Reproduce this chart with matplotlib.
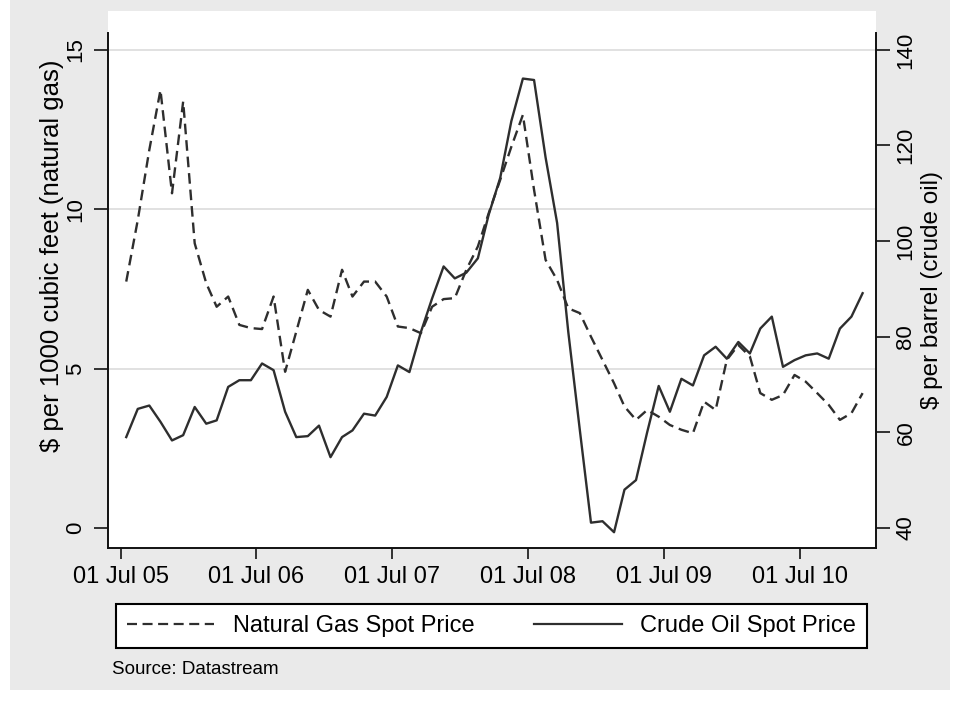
import numpy as np
import pandas as pd
import matplotlib
matplotlib.use('Agg')
import matplotlib.pyplot as plt
import matplotlib.dates as mdates
from matplotlib.patches import Rectangle
from matplotlib.lines import Line2D

plt.rcParams['font.family'] = ['Liberation Sans', 'DejaVu Sans']

# monthly observations, Jul 2005 - Dec 2010 (plotted mid-month)
months = pd.date_range('2005-07-01', '2010-12-01', freq='MS') + pd.Timedelta(days=15)

# natural gas spot price, $ per 1000 cubic feet
gas = [7.73, 9.66, 11.86, 13.74, 10.50, 13.38, 8.93, 7.68, 6.94, 7.26, 6.37, 6.27,
       6.24, 7.26, 4.90, 6.16, 7.47, 6.84, 6.63, 8.10, 7.26, 7.73, 7.73, 7.26,
       6.32, 6.27, 6.11, 6.94, 7.18, 7.21, 8.10, 8.83, 9.87, 10.92, 11.96, 12.96,
       10.61, 8.41, 7.78, 6.89, 6.74, 6.00, 5.27, 4.54, 3.81, 3.39, 3.70, 3.49,
       3.23, 3.08, 2.97, 3.96, 3.70, 5.27, 5.74, 5.38, 4.23, 4.02, 4.17, 4.80,
       4.59, 4.23, 3.86, 3.39, 3.60, 4.23]

# crude oil spot price, $ per barrel
oil = [59.0, 64.9, 65.6, 62.2, 58.3, 59.4, 65.3, 61.8, 62.5, 69.5, 70.9, 70.9,
       74.4, 73.0, 64.3, 59.0, 59.2, 61.4, 54.8, 59.0, 60.4, 63.9, 63.5, 67.4,
       74.0, 72.6, 81.0, 88.0, 94.7, 92.2, 93.4, 96.4, 105.5, 113.2, 125.1, 134.0,
       133.7, 117.5, 103.8, 81.0, 60.5, 41.1, 41.4, 39.1, 48.0, 50.0, 60.0, 69.7,
       64.3, 71.2, 69.8, 76.1, 77.9, 75.4, 78.9, 76.5, 81.7, 84.2, 73.7, 75.1,
       76.1, 76.5, 75.4, 81.7, 84.2, 89.1]

gas_ticks = [0, 5, 10, 15]
oil_ticks = [40, 60, 80, 100, 120, 140]
date_ticks = pd.to_datetime(['2005-07-01', '2006-07-01', '2007-07-01',
                             '2008-07-01', '2009-07-01', '2010-07-01'])

W, H = 956, 702
fig = plt.figure(figsize=(W / 100, H / 100), dpi=100, facecolor='white')
fig.patches.append(Rectangle((10 / W, 12 / H), 940 / W, 690 / H,
                             transform=fig.transFigure, facecolor='#eaeaea',
                             edgecolor='none', zorder=-10))

ax = fig.add_axes([108 / W, (H - 548) / H, 768 / W, 537 / H])
ax.set_facecolor('white')
ax2 = ax.twinx()

line_col = '#2e2e2e'
ax.plot(months, gas, color=line_col, lw=1.7, dashes=(4.5, 2.5))
ax2.plot(months, oil, color=line_col, lw=1.7)

# axis ranges: gas 0..15 maps onto oil 40..140
g_lo, g_hi = -0.63, 16.22
ax.set_ylim(g_lo, g_hi)
ax2.set_ylim(40 + g_lo * 100 / 15, 40 + g_hi * 100 / 15)
ax.set_xlim(pd.Timestamp('2005-05-28'), pd.Timestamp('2011-01-21'))

ax.set_yticks(gas_ticks)
ax2.set_yticks(oil_ticks)
ax.set_xticks(date_ticks)
ax.xaxis.set_major_formatter(mdates.DateFormatter('%d %b %y'))

ax.grid(axis='y', color='#dedede', lw=1.3)
ax.get_ygridlines()[0].set_visible(False)
ax.set_axisbelow(True)

for s in ['top', 'right']:
    ax.spines[s].set_visible(False)
for s in ['top', 'left', 'bottom']:
    ax2.spines[s].set_visible(False)
ax.spines['left'].set_bounds(g_lo, 15.53)
ax2.spines['right'].set_bounds(40 + g_lo * 100 / 15, 40 + 15.53 * 100 / 15)
for sp in [ax.spines['left'], ax.spines['bottom'], ax2.spines['right']]:
    sp.set_linewidth(1.4)
    sp.set_color('#111111')

ax.tick_params(axis='x', length=8, width=1.1, labelsize=17, pad=5)
ax.tick_params(axis='y', length=10, width=1.1, labelsize=16, pad=6)
ax2.tick_params(axis='y', length=10, width=1.1, labelsize=16, pad=4)
for lab in ax.get_yticklabels():
    lab.set_rotation(90)
    lab.set_va('center')
for lab in ax2.get_yticklabels():
    lab.set_rotation(90)
    lab.set_va('center')

fig.text(52 / W, 1 - 256 / H, '$ per 1000 cubic feet (natural gas)', rotation=90,
         ha='center', va='center', fontsize=18.5)
fig.text(932 / W, 1 - 290 / H, '$ per barrel (crude oil)', rotation=90,
         ha='center', va='center', fontsize=17.5)

handles = [Line2D([], [], color=line_col, lw=1.6, dashes=(4.5, 2.5)),
           Line2D([], [], color=line_col, lw=1.6)]
leg = fig.legend(handles, ['Natural Gas Spot Price', 'Crude Oil Spot Price'],
                 loc='center', ncol=2, mode='expand',
                 bbox_to_anchor=(116 / W, 1 - 648 / H, 751 / W, 44 / H),
                 bbox_transform=fig.transFigure, borderaxespad=0,
                 fontsize=17, handlelength=3.7, handletextpad=0.8, borderpad=0.45,
                 frameon=True, fancybox=False, edgecolor='black', framealpha=1)
leg.get_frame().set_linewidth(1.5)

fig.text(112 / W, 1 - 670 / H, 'Source: Datastream', fontsize=13.5, va='center')

fig.savefig('out.png', dpi=100, facecolor=fig.get_facecolor())
